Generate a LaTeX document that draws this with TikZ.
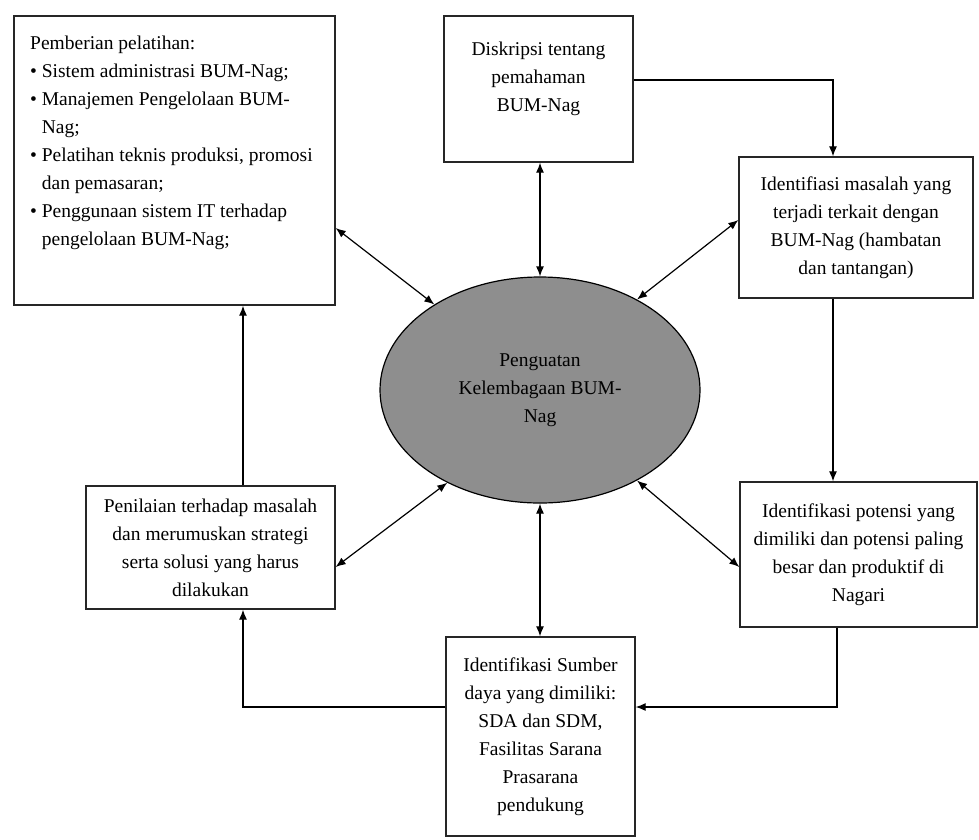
\documentclass[tikz,border=0pt]{standalone}
\usepackage{fontspec}
\setmainfont{Liberation Serif}
\usetikzlibrary{shapes.geometric,arrows.meta}
\definecolor{ellgray}{RGB}{142,142,142}
\begin{document}
\begin{tikzpicture}[x=1pt,y=1pt,
  box/.style={draw=black!85,line width=1.3pt,rectangle,inner sep=0pt,align=center,font={\fontsize{19.5}{28}\selectfont}},
  txt/.style={inner sep=0pt,font={\fontsize{19.5}{28}\selectfont}},
  arr/.style={line width=1.2pt,-{Latex[length=10pt,width=8pt]}},
  barr/.style={line width=1.2pt,{Latex[length=10pt,width=8pt]}-{Latex[length=10pt,width=8pt]}}]
\useasboundingbox (0,0) rectangle (979,-839);
% boxes
\node[box,minimum width=321,minimum height=289] (b1) at (174.5,-160.5) {};
\node[txt,anchor=north west,align=left] (t1) at (30,-36) {Pemberian pelatihan:\\
\textbullet\ Sistem administrasi BUM-Nag;\\
\textbullet\ Manajemen Pengelolaan BUM-\\
\hphantom{\textbullet\ }Nag;\\
\textbullet\ Pelatihan teknis produksi, promosi\\
\hphantom{\textbullet\ }dan pemasaran;\\
\textbullet\ Penggunaan sistem IT terhadap\\
\hphantom{\textbullet\ }pengelolaan BUM-Nag;};
\node[box,minimum width=189,minimum height=146] (b2) at (538.5,-89) {};
\node[txt,anchor=north,align=center] (t2) at (538.5,-42) {Diskripsi tentang\\pemahaman\\BUM-Nag};
\node[box,minimum width=234,minimum height=141] (b3) at (856,-227.5) {Identifiasi masalah yang\\terjadi terkait dengan\\BUM-Nag (hambatan\\dan tantangan)};
\node[box,minimum width=237,minimum height=145] (b4) at (858.5,-554.5) {Identifikasi potensi yang\\dimiliki dan potensi paling\\besar dan produktif di\\Nagari};
\node[box,minimum width=189,minimum height=199] (b5) at (540.5,-736.5) {Identifikasi Sumber\\daya yang dimiliki:\\SDA dan SDM,\\Fasilitas Sarana\\Prasarana\\pendukung};
\node[box,minimum width=249,minimum height=123] (b6) at (210.5,-547.5) {Penilaian terhadap masalah\\dan merumuskan strategi\\serta solusi yang harus\\dilakukan};
% ellipse
\node[ellipse,draw=black,line width=1.2pt,fill=ellgray,minimum width=320,minimum height=226,inner sep=0pt,align=center,font={\fontsize{19.5}{28}\selectfont}] (ell) at (540,-390) {Penguatan\\Kelembagaan BUM-\\Nag};
% cycle connectors
\draw[arr] ([yshift=9pt]b2.east) -| ([xshift=-23pt]b3.north);
\draw[arr] ([xshift=-23pt]b3.south) -- ([xshift=-23pt]b3.south |- b4.north);
\draw[arr] ([xshift=-21.5pt]b4.south) |- ([yshift=29.5pt]b5.east);
\draw[arr] ([yshift=29.5pt]b5.west) -| ([xshift=32.5pt]b6.south);
\draw[arr] ([xshift=32.5pt]b6.north) -- ([xshift=32.5pt]b6.north |- b1.south);
% bidirectional
\draw[barr] (ell.north) -- (ell.north |- b2.south);
\draw[barr] (ell.south) -- (ell.south |- b5.north);
\draw[barr] (ell.141.7) -- ([yshift=-67.5pt]b1.east);
\draw[barr] (ell.43.5) -- ([yshift=7.5pt]b3.west);
\draw[barr] (ell.225) -- ([yshift=-19.5pt]b6.east);
\draw[barr] (ell.-43.6) -- ([yshift=-12.5pt]b4.west);
\end{tikzpicture}
\end{document}
